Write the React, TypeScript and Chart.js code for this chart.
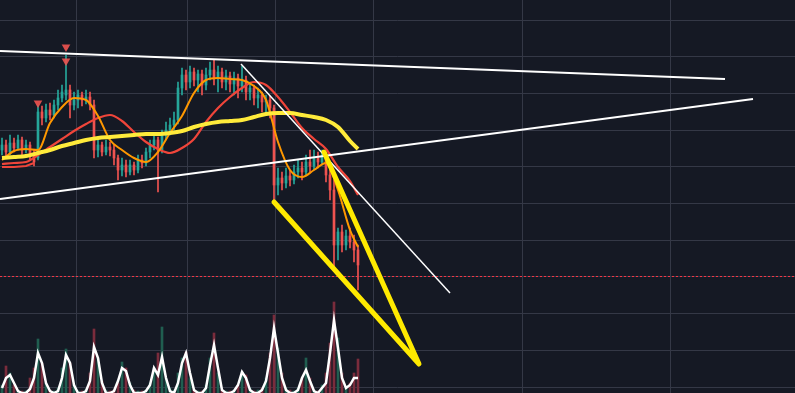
import { useEffect, useRef } from "react";
import { Chart, registerables } from "chart.js";

Chart.register(...registerables);

// ---- candles (one per bar index) ----
const candleOpen = [62.5,63.75,62,64.25,63,65,62.5,63.75,61.25,60.5, 72,70.5,72.5,71.25,73.75,75.5,76.25,77.5,73.75,75, 76.25,75,75.75,73.75,62.5,63.75,62,63.25,62.5,60.5, 57.5,58.75,57,58.75,57.5,60,59.25,62,63.75,65, 62.5,66.25,67.5,68.75,70,78,81.25,79.5,82,80, 81.5,78.75,81.25,82.5,80.5,82,79.5,81,79,80.5, 78.5,80,77,78,75.5,76.25,74.5,75,73,53.75, 55.5,54.25,56,55,57,58,57,59.5,58.5,60.5, 59.5,61,56.25,52.5,38.75,42,38.75,41,39.5,37.5];
const candleClose = [63.75,62,64.25,63,65,62.5,63.75,61.25,59.5,72, 70.5,72.5,71.25,73.75,75.5,77,77.5,73.75,75,76.25, 75,75.75,73.75,62.5,63.75,62,63.25,62.5,60.5,57.5, 58.75,57,58.75,57.5,60,59.25,62,63.75,65,62.5, 66.25,67.5,68.75,70,78,81.25,79.5,82,80,81.5, 78.75,81.25,82.5,80.5,82,79.5,81,79,80.5,78.5, 80,77,78,75.5,76.25,74.5,75,73,53.75,55.5, 54.25,56,55,57,58,57,59.5,58.5,60.5,59.5, 61,56.25,52.5,38.75,42,38.75,41,39.5,37.5,33.75];
const candleHigh = [65.5,65,66.25,65.5,66.25,65.75,65,64.5,62.5,73.75, 73.5,74,74.25,75,77.5,78.75,86.25,78.75,77,77.5, 77,77.5,77,75,65,64.5,65,64.5,63.75,61.25, 60.5,60,60,59.5,61.25,61.25,63,65,66.25,65.75, 67.5,69.5,70.5,72,79.5,83,82.5,83.5,83,82.5, 82.5,83,84.5,85,83.5,83,82.5,82,82,81.5, 83.5,81,79.5,78.75,78,77,76.25,76,73.75,58, 57,58,57.5,58.75,60,59.5,61.25,62.5,62.5,62, 62.5,62,57.5,55,43,43.75,42.5,43,41.25,38.75];
const candleLow = [61.25,60.5,61.25,62,62.5,61.25,61.75,60,58.5,60, 68.75,69.5,70,70.5,72.5,74.5,75,70.5,72.5,73, 73.5,74,72.5,60.5,60.75,61,61.25,61,58.75,55, 56,55.75,56.25,56.25,56.75,58,58.5,60.5,62.5,52, 61.75,65,66.25,67.5,69,76.25,77.5,78,78.5,77, 76.25,77.5,80,78.75,77,78,77.5,77,76.25,75.5, 77,75,75,73.75,73,72,71.25,70.5,50,51.25, 52.5,53,53.5,54,55.5,55,56,57,57.5,58, 58.75,54.5,50,32.5,35,37,37.5,38,34.5,27.5];

// ---- volume ----
const volume = [2,6.75,5,2,0.75,0.5,0.5,3.75,6.25,13.5, 7.5,2.5,0.75,0.5,1.25,6.25,11,7.5,2,0.5, 0.5,1,5,16,8.75,3,0.75,0.5,0.75,2.5, 7.75,6.25,2.5,0.75,0.5,0.5,0.75,2.5,6.25,10, 16.5,3.75,1.25,0.75,5,8.75,10.25,3.75,0.75,0.5, 0.5,2,8.75,15,5,0.75,0.5,0.5,0.75,2, 5.25,4.5,1.25,0.5,0.75,1.25,3.75,10,19.5,11.25, 5,1.25,0.75,0.5,1.25,3.75,8.75,3.75,0.75,0.5, 2,5,12.5,22.75,13.75,5,1.25,2.5,5,8.5];
const volumeMA = [1.25,3.75,4.5,2.5,0.5,0,0,1,3.75,10, 7.5,2.5,0.5,0,0.5,3.75,9.5,7.5,2,0, 0,0.5,3,11.5,8.75,2.5,0,0,0.5,3, 6.25,5.5,2,0,0,0,0.5,2,6.25,4.5, 9,3.75,0.5,0,2.5,7.5,10,5,0.75,0, 0,1.25,7,12,6.25,0.75,0,0,0.5,2, 5.25,3.75,0.75,0,0,0.75,3,8.75,16.25,10, 3.75,0.75,0,0,0.75,3.75,5.75,3,0.5,0, 1.25,2.5,10,18.25,11.25,3.75,1.25,2,3.75,3.75];

// ---- moving averages (sampled at bar indices) ----
const maIndex = [0,3,6,9,12,15,18,21,24,27,30,33,36,39,42,45,48,51,54,57,60,63,66,69,72,75,78,81,84,87,89];
const maYellow = [60.5,60.75,61,61.75,62.5,63.5,64.25,65,65.5,65.75,66,66.25,66.5,66.5,66.75,67.25,68.25,69,69.5,69.75,70,70.75,71.5,71.75,71.75,71.25,70.75,70,68.25,64.75,62.75];
const maOrange = [60,62.25,62.75,62.5,69.25,73.25,75.5,75,71,65,62.5,60.5,59.5,62,66.75,71,76.75,80,80.5,80.25,80,78.5,75,64.5,57.5,55.75,57.5,59.25,52.5,42.5,38.25];
const maRed = [59,59.25,59.5,61.25,63.25,65.25,67.25,69,70.5,71.25,69.75,67,64.5,62.75,61.75,63,65.25,69.5,73,75.75,78,79.5,78.75,75.75,72,68,65.25,62.75,58.25,54.75,51.25];
const maRedSlowIndex = [0,3,6,8];
const maRedSlow = [58.25,58.25,58.5,59.25];

// ---- signal markers ----
const markerIndex = [9,16,16];
const markerPrice = [74.25,88.25,84.75];

// ---- drawings ----
const trendUpperX = [-0.5,180.75];
const trendUpperY = [87.25,80.25];
const trendLowerX = [-0.5,187.75];
const trendLowerY = [50.25,75.25];
const trendDownX = [59.75,112];
const trendDownY = [84,26.75];
const wedgeX = [68,104.25,80.5];
const wedgeY = [49.5,9,62];
const lastPrice = 30.875;

// ---- axes ----
const xMin = -0.5;
const xMax = 198.25;
const yMin = 1.75;
const yMax = 100;
const volMax = 98.25;
const xGridTicks = [18.5,46.25,68.25,92.75,130,167];
const yGridTicks = [3.25,12.43,21.6,30.78,39.95,49.13,58.3,67.48,76.65,85.83,95];

const BG = "#151924";
const GRID = "#343846";
const UP = "#26a69a";
const DOWN = "#ef5350";
const VOL_UP = "#205e50";
const VOL_DOWN = "#7a2c3c";

export default function App() {
  const ref = useRef<HTMLCanvasElement>(null);

  useEffect(() => {
    if (!ref.current) return;
    const idx = candleOpen.map((_, i) => i);
    const up = idx.map((i) => candleClose[i] >= candleOpen[i]);
    const pts = (xs: number[], ys: number[]) => xs.map((x, k) => ({ x, y: ys[k] }));

    const lineBase = { type: "line" as const, pointRadius: 0, fill: false, yAxisID: "y" };

    const chart = new Chart(ref.current, {
      type: "bar",
      data: {
        datasets: [
          {
            ...lineBase,
            label: "wedge",
            data: pts(wedgeX, wedgeY),
            borderColor: "#ffea00",
            borderWidth: 5,
            borderCapStyle: "round",
            borderJoinStyle: "round",
            order: 1,
          },
          {
            ...lineBase,
            label: "trendUpper",
            data: pts(trendUpperX, trendUpperY),
            borderColor: "#ffffff",
            borderWidth: 2,
            order: 2,
          },
          {
            ...lineBase,
            label: "trendLower",
            data: pts(trendLowerX, trendLowerY),
            borderColor: "#ffffff",
            borderWidth: 2,
            order: 2,
          },
          {
            ...lineBase,
            label: "trendDown",
            data: pts(trendDownX, trendDownY),
            borderColor: "#ffffff",
            borderWidth: 1.5,
            order: 2,
          },
          {
            ...lineBase,
            label: "last",
            data: pts([xMin, xMax], [lastPrice, lastPrice]),
            borderColor: "#f23645",
            borderWidth: 1,
            borderDash: [2, 2],
            order: 3,
          },
          {
            type: "scatter",
            label: "markers",
            data: pts(markerIndex, markerPrice),
            pointStyle: "triangle",
            rotation: 180,
            pointRadius: 5,
            backgroundColor: "rgba(239,83,80,0.9)",
            borderWidth: 0,
            yAxisID: "y",
            order: 4,
          },
          {
            ...lineBase,
            label: "MA yellow",
            data: pts(maIndex, maYellow),
            borderColor: "#ffeb3b",
            borderWidth: 4,
            cubicInterpolationMode: "monotone",
            order: 5,
          },
          {
            ...lineBase,
            label: "MA orange",
            data: pts(maIndex, maOrange),
            borderColor: "#ff9800",
            borderWidth: 2,
            cubicInterpolationMode: "monotone",
            order: 6,
          },
          {
            ...lineBase,
            label: "MA red",
            data: pts(maIndex, maRed),
            borderColor: "#f0453a",
            borderWidth: 2.2,
            cubicInterpolationMode: "monotone",
            order: 7,
          },
          {
            ...lineBase,
            label: "MA red slow",
            data: pts(maRedSlowIndex, maRedSlow),
            borderColor: "#f0453a",
            borderWidth: 2,
            order: 7,
          },
          {
            type: "bar",
            label: "body",
            data: idx.map((i) => ({ x: i, y: [candleOpen[i], candleClose[i]] })),
            backgroundColor: up.map((u) => (u ? UP : DOWN)),
            barThickness: 2,
            grouped: false,
            minBarLength: 1,
            yAxisID: "y",
            order: 8,
          },
          {
            type: "bar",
            label: "wick",
            data: idx.map((i) => ({ x: i, y: [candleLow[i], candleHigh[i]] })),
            backgroundColor: up.map((u) => (u ? UP : DOWN)),
            barThickness: 1,
            grouped: false,
            yAxisID: "y",
            order: 9,
          },
          {
            type: "line",
            label: "vol MA",
            data: idx.map((i) => ({ x: i, y: volumeMA[i] })),
            borderColor: "#ffffff",
            borderWidth: 2.5,
            pointRadius: 0,
            yAxisID: "yv",
            order: 10,
          },
          {
            type: "bar",
            label: "volume",
            data: idx.map((i) => ({ x: i, y: volume[i] })),
            backgroundColor: up.map((u) => (u ? VOL_UP : VOL_DOWN)),
            barThickness: 2,
            grouped: false,
            yAxisID: "yv",
            order: 11,
          },
        ] as any,
      },
      options: {
        animation: false,
        responsive: false,
        events: [],
        layout: { padding: 0, autoPadding: false },
        plugins: { legend: { display: false }, tooltip: { enabled: false } },
        scales: {
          x: {
            type: "linear",
            min: xMin,
            max: xMax,
            offset: false,
            grid: { color: GRID, drawTicks: false, lineWidth: 1, offset: false },
            border: { display: false },
            ticks: { display: false },
            afterBuildTicks: (axis: any) => {
              axis.ticks = xGridTicks.map((value) => ({ value }));
            },
          },
          y: {
            type: "linear",
            position: "right",
            min: yMin,
            max: yMax,
            grid: { color: GRID, drawTicks: false, lineWidth: 1 },
            border: { display: false },
            ticks: { display: false },
            afterBuildTicks: (axis: any) => {
              axis.ticks = yGridTicks.map((value) => ({ value }));
            },
          },
          yv: {
            type: "linear",
            min: 0,
            max: volMax,
            display: false,
          },
        },
      } as any,
    });
    return () => chart.destroy();
  }, []);

  return (
    <div
      style={{
        position: "fixed",
        left: 0,
        top: 0,
        width: 795,
        height: 393,
        background: BG,
        overflow: "hidden",
      }}
    >
      <canvas ref={ref} width={795} height={393} style={{ display: "block" }} />
    </div>
  );
}
